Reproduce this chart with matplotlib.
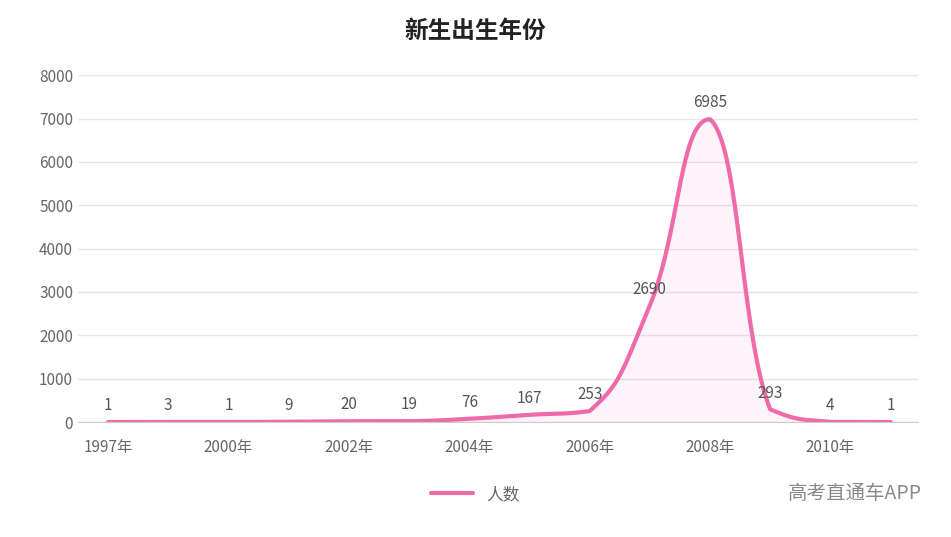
import numpy as np
import matplotlib
matplotlib.use('Agg')
import matplotlib.pyplot as plt

plt.rcParams['font.family'] = ['Noto Sans CJK SC', 'DejaVu Sans']

years = ["1997年", "1999年", "2000年", "2001年", "2002年", "2003年", "2004年",
         "2005年", "2006年", "2007年", "2008年", "2009年", "2010年", "2011年"]
counts = [1, 3, 1, 9, 20, 19, 76, 167, 253, 2690, 6985, 293, 4, 1]
tick_labels = ["1997年", "2000年", "2002年", "2004年", "2006年", "2008年", "2010年"]


def smooth_curve(x, y, s=0.5, n=40):
    # bezier smoothing; control points kept between neighbours
    p = np.column_stack([np.asarray(x, float), np.asarray(y, float)])
    k = len(p)
    cin = p.copy(); cout = p.copy()
    for i in range(1, k - 1):
        v = (p[i + 1] - p[i - 1]) / 2
        cin[i] = p[i] - v * s
        cout[i] = p[i] + v * s
        cin[i, 1] = np.clip(cin[i, 1], min(p[i - 1, 1], p[i, 1]), max(p[i - 1, 1], p[i, 1]))
        cout[i, 1] = np.clip(cout[i, 1], min(p[i + 1, 1], p[i, 1]), max(p[i + 1, 1], p[i, 1]))
    pts = []
    t = np.linspace(0, 1, n)[:, None]
    for i in range(k - 1):
        a, b, c, d = p[i], cout[i], cin[i + 1], p[i + 1]
        pts.append((1 - t)**3 * a + 3 * (1 - t)**2 * t * b + 3 * (1 - t) * t**2 * c + t**3 * d)
    pts = np.vstack(pts)
    return pts[:, 0], pts[:, 1]


idx = np.arange(len(years))
sx, sy = smooth_curve(idx, counts)
color = "#ef6aa8"

fig = plt.figure(figsize=(9.51, 5.37), dpi=100)
ax = fig.add_axes([0.082, 0.214, 0.883, 0.646])
ax.fill_between(sx, sy, color=color, alpha=0.08, lw=0)
ax.plot(sx, sy, color=color, lw=3, label="人数", solid_capstyle='round')
for i, v in enumerate(counts):
    ax.text(i, v + 180, str(v), ha='center', va='bottom', fontsize=11, color='#555555')

ax.set_xlim(-0.5, 13.45)
ax.set_ylim(0, 8000)
ax.set_yticks(range(0, 8001, 1000))
ax.set_xticks([years.index(t) for t in tick_labels])
ax.set_xticklabels(tick_labels)
ax.tick_params(axis='both', length=0, labelsize=11, labelcolor='#666666')
ax.tick_params(axis='x', pad=12)
ax.grid(axis='y', color='#e6e6e6', lw=1)
ax.set_axisbelow(True)
for s in ['top', 'right', 'left']:
    ax.spines[s].set_visible(False)
ax.spines['bottom'].set_color('#cccccc')

fig.suptitle("新生出生年份", y=0.965, fontsize=17, fontweight='bold', color='#222222')
fig.legend(loc='lower center', bbox_to_anchor=(0.5, 0.035), frameon=False,
           fontsize=12, labelcolor='#666666', handlelength=2.5)
fig.text(0.97, 0.07, "高考直通车APP", ha='right', fontsize=14, color='#888888')

fig.savefig("out.png", dpi=100)
